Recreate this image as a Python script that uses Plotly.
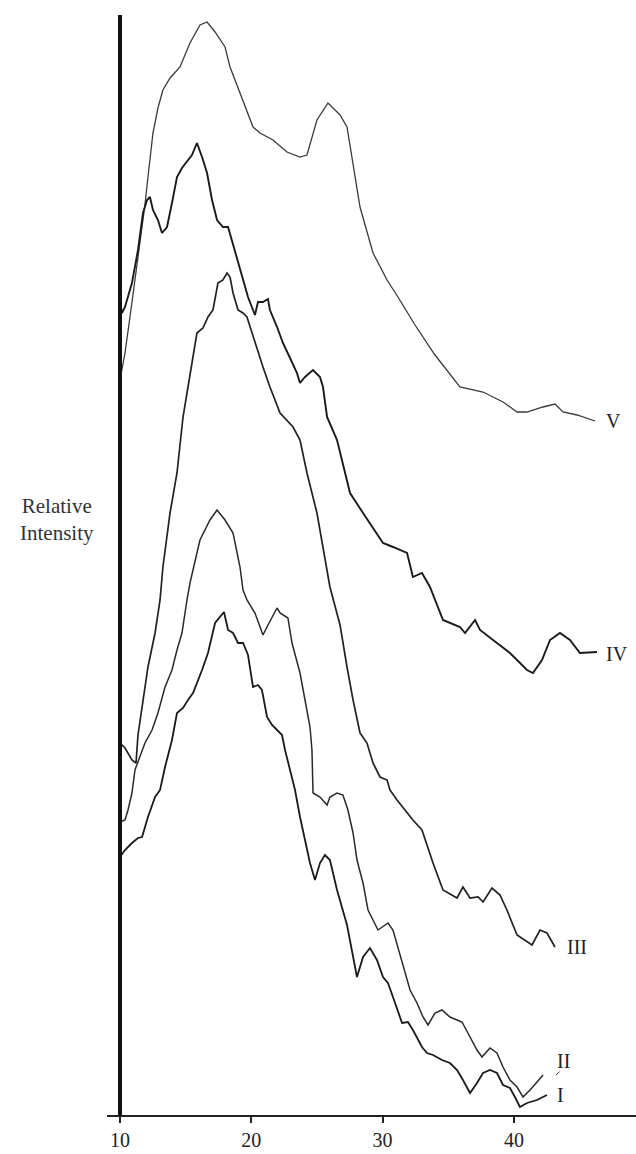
import plotly.graph_objects as go

# 2-theta (degrees) and relative intensity (arbitrary units)
v_x = [10.00, 10.38, 10.76, 11.14, 11.52, 11.90, 12.13, 12.28, 12.51, 12.89, 13.27, 13.81, 14.57, 15.33, 16.09, 16.63, 17.24, 18.00, 18.38, 19.14, 20.13, 20.66, 21.65, 22.72, 23.71, 24.24, 25.00, 25.84, 26.76, 27.29, 28.28, 29.27, 30.34, 31.17, 32.47, 33.99, 35.51, 35.89, 37.65, 39.17, 40.24, 41.00, 42.22, 43.13, 43.74, 44.81, 46.18]
v_y = [73.5, 76.2, 79.8, 83.5, 87.2, 91.0, 93.8, 95.5, 98.2, 100.7, 102.5, 103.7, 104.8, 107.2, 109.0, 109.3, 108.3, 106.8, 104.8, 102.2, 98.8, 98.2, 97.5, 96.3, 95.8, 96.0, 99.5, 101.2, 100.0, 98.8, 90.8, 86.2, 83.5, 81.8, 79.0, 76.0, 73.5, 72.8, 72.3, 71.3, 70.3, 70.3, 70.8, 71.1, 70.3, 70.0, 69.4]

iv_x = [10.00, 10.15, 10.38, 10.91, 11.37, 11.75, 12.06, 12.28, 12.51, 12.89, 13.20, 13.58, 13.96, 14.34, 14.72, 15.18, 15.48, 15.86, 16.25, 16.63, 17.01, 17.39, 17.84, 18.23, 18.61, 18.91, 19.37, 19.75, 20.13, 20.28, 20.51, 20.89, 21.27, 21.42, 21.96, 22.41, 22.95, 23.48, 23.71, 24.09, 24.70, 25.23, 25.46, 25.77, 26.53, 27.29, 27.52, 28.51, 30.03, 30.79, 31.86, 32.31, 33.00, 33.61, 34.60, 35.89, 36.28, 37.04, 37.42, 38.71, 39.70, 41.00, 41.45, 42.14, 42.75, 43.51, 44.27, 45.03, 46.33]
iv_y = [81.2, 80.2, 80.8, 83.2, 86.5, 90.2, 91.5, 91.8, 90.5, 89.5, 88.2, 88.8, 91.2, 93.8, 94.7, 95.5, 96.0, 97.2, 95.8, 94.2, 91.5, 89.5, 88.8, 88.8, 87.0, 85.5, 83.5, 81.8, 80.5, 80.0, 81.3, 81.3, 81.6, 80.5, 78.8, 77.2, 75.7, 74.2, 73.2, 73.8, 74.5, 73.8, 72.8, 69.8, 67.5, 63.5, 62.2, 60.2, 57.2, 56.8, 56.2, 53.8, 54.2, 52.8, 49.5, 48.8, 48.2, 49.5, 48.5, 47.2, 46.2, 44.5, 44.2, 45.5, 47.5, 48.2, 47.5, 46.2, 46.3]

iii_x = [10.00, 10.38, 10.91, 11.22, 11.37, 11.75, 12.13, 12.67, 13.05, 13.27, 13.81, 14.34, 14.80, 15.33, 15.86, 16.32, 16.70, 17.08, 17.46, 17.84, 18.15, 18.38, 18.61, 18.99, 19.37, 19.67, 20.05, 20.43, 20.89, 21.42, 22.19, 23.18, 23.71, 24.24, 25.00, 25.99, 26.76, 27.29, 27.75, 28.28, 28.81, 29.27, 29.80, 30.34, 30.56, 31.10, 32.31, 33.00, 33.84, 34.60, 35.67, 36.12, 36.66, 37.27, 37.65, 38.33, 38.94, 39.47, 40.24, 41.38, 41.99, 42.52, 43.13]
iii_y = [37.2, 36.7, 35.5, 35.2, 38.0, 41.5, 44.8, 48.2, 51.5, 54.8, 60.2, 64.2, 69.8, 74.0, 78.2, 78.7, 79.8, 80.5, 83.2, 83.5, 84.2, 83.8, 82.2, 80.5, 80.2, 79.8, 78.2, 76.5, 74.8, 72.8, 70.2, 68.8, 67.5, 64.2, 60.2, 52.8, 49.0, 44.8, 41.5, 38.2, 37.2, 35.2, 33.8, 33.5, 32.5, 31.5, 29.5, 28.5, 25.2, 22.5, 21.7, 22.8, 21.7, 21.8, 21.3, 22.7, 22.0, 20.5, 18.0, 17.0, 18.5, 18.2, 16.8]

ii_x = [10.00, 10.38, 10.61, 10.91, 11.14, 11.52, 11.90, 12.44, 12.89, 13.43, 13.96, 14.34, 14.72, 15.10, 15.33, 16.09, 16.85, 17.39, 18.00, 18.61, 19.14, 19.37, 19.67, 20.28, 20.66, 20.89, 21.27, 21.96, 22.19, 22.79, 23.10, 23.71, 24.09, 24.47, 24.62, 24.70, 25.23, 25.77, 25.99, 26.53, 26.98, 27.36, 27.75, 28.05, 28.51, 28.89, 29.65, 30.41, 30.79, 31.48, 32.09, 32.62, 33.08, 33.46, 33.99, 34.52, 35.13, 35.67, 36.05, 36.66, 37.19, 37.57, 38.18, 38.71, 39.17, 39.70, 40.24, 40.69, 41.23, 41.76, 42.22]
ii_y = [29.3, 29.5, 30.5, 32.2, 34.5, 35.8, 37.2, 38.5, 40.2, 42.8, 44.5, 46.5, 48.2, 51.5, 53.2, 57.5, 59.5, 60.5, 59.5, 58.2, 54.8, 52.5, 51.5, 50.2, 48.8, 48.0, 49.0, 50.7, 50.2, 49.7, 47.2, 44.2, 41.5, 38.8, 36.5, 32.2, 31.8, 31.0, 31.8, 32.2, 32.0, 30.5, 28.2, 25.5, 23.2, 20.5, 18.5, 19.2, 18.5, 15.2, 12.5, 11.2, 9.8, 9.0, 10.2, 10.5, 9.8, 9.5, 9.3, 7.8, 6.5, 5.8, 6.7, 6.2, 4.8, 3.5, 2.8, 1.8, 2.5, 3.3, 4.0]

i_x = [10.00, 10.38, 10.91, 11.37, 11.68, 12.13, 12.67, 13.05, 13.43, 13.96, 14.34, 14.80, 15.18, 15.56, 16.25, 16.70, 17.24, 17.62, 17.92, 18.23, 18.61, 18.99, 19.37, 19.75, 20.13, 20.51, 20.81, 21.20, 21.58, 21.96, 22.34, 22.57, 22.95, 23.33, 23.71, 24.09, 24.47, 24.85, 25.23, 25.61, 25.99, 26.53, 27.29, 28.05, 28.51, 29.04, 29.57, 30.03, 30.41, 30.79, 31.48, 31.93, 32.31, 33.00, 33.38, 33.84, 34.52, 35.13, 35.67, 36.12, 36.66, 37.19, 37.65, 38.18, 38.71, 39.17, 39.70, 40.08, 40.46, 41.00, 41.76, 42.52]
i_y = [25.8, 26.5, 27.2, 27.7, 27.8, 29.8, 31.8, 32.5, 34.8, 37.5, 40.2, 40.7, 41.5, 42.2, 44.5, 46.2, 49.2, 49.8, 50.3, 48.5, 48.2, 47.2, 47.2, 46.0, 42.8, 43.0, 42.5, 39.8, 39.0, 38.5, 38.0, 36.5, 34.5, 32.5, 29.8, 27.5, 25.2, 23.5, 25.2, 26.0, 25.5, 22.5, 19.0, 13.8, 15.8, 16.7, 15.5, 13.8, 13.2, 11.8, 9.2, 9.3, 8.5, 6.8, 6.2, 6.0, 5.5, 5.2, 4.5, 3.5, 2.2, 3.2, 4.2, 4.5, 4.2, 3.0, 2.7, 1.8, 0.8, 1.2, 1.5, 2.0]

series_names = ["V", "IV", "III", "II", "I"]
series_x = [v_x, iv_x, iii_x, ii_x, i_x]
series_y = [v_y, iv_y, iii_y, ii_y, i_y]
label_dx = [0.65, 0.55, 0.75, 0.9, 0.6]
label_dy_px = [0, -2, 0, 14, 0]

tick_vals = [10, 20, 30, 40]
tick_text = ["10", "20", "30", "40"]

colors = ["#3a3a3a", "#1a1a1a", "#222222", "#2a2a2a", "#1a1a1a"]
widths = [1.3, 1.9, 1.7, 1.5, 1.8]

fig = go.Figure()
for name, xs, ys, c, w in zip(series_names, series_x, series_y, colors, widths):
    fig.add_trace(go.Scatter(x=xs, y=ys, mode="lines", name=name,
                             line=dict(color=c, width=w), showlegend=False,
                             hoverinfo="skip"))

serif = "Liberation Serif, Times New Roman, serif"
for name, xs, ys, dx, dy in zip(series_names, series_x, series_y, label_dx, label_dy_px):
    fig.add_annotation(x=xs[-1] + dx, y=ys[-1], yshift=dy, text=name, showarrow=False,
                       xanchor="left", yanchor="middle",
                       font=dict(family=serif, size=20, color="#222"))

# small leader mark under the "II" label
fig.add_annotation(x=ii_x[-1] + 1.0, y=ii_y[-1], text="", showarrow=True,
                   arrowhead=0, arrowwidth=1, arrowcolor="#333", ax=5, ay=-5)

fig.add_annotation(xref="paper", yref="paper", x=-0.0945, y=0.541,
                   text="Relative<br>Intensity", showarrow=False,
                   xanchor="center", yanchor="middle", align="center",
                   font=dict(family=serif, size=21, color="#333"))

fig.update_layout(
    width=636, height=1154,
    margin=dict(l=107, r=0, t=15, b=39),
    paper_bgcolor="white", plot_bgcolor="white",
    xaxis=dict(range=[9.01, 49.30], tickvals=tick_vals, ticktext=tick_text,
               showline=True, linecolor="#222", linewidth=1.5,
               ticks="outside", ticklen=6, tickwidth=1.5, tickcolor="#222",
               showgrid=False, zeroline=False,
               tickfont=dict(family=serif, size=20, color="#222")),
    yaxis=dict(range=[0, 110], showticklabels=False, ticks="",
               showline=True, linecolor="#111", linewidth=3.5,
               anchor="free", position=0.02457,
               showgrid=False, zeroline=False),
)

fig.write_html("out.html")
